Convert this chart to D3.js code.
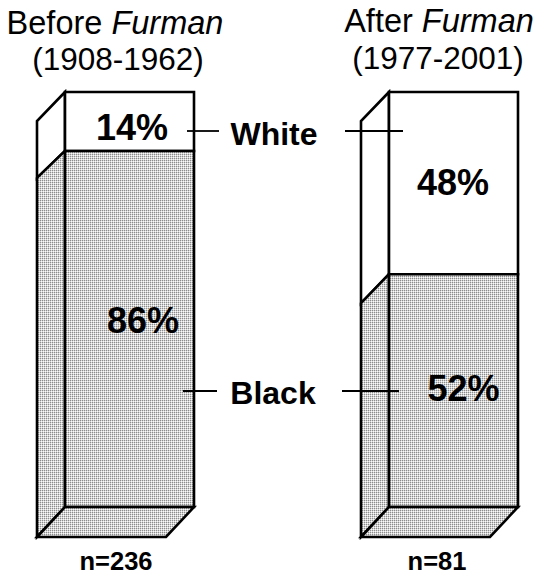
<!DOCTYPE html>
<html><head><meta charset="utf-8">
<script src="https://cdn.jsdelivr.net/npm/d3@7/dist/d3.min.js"></script>
<style>html,body{margin:0;padding:0;background:#fff}svg{display:block}text{font-family:"Liberation Sans",Arial,sans-serif;fill:#000}</style>
</head><body><div id="c"></div>
<script>
const periods = ["Before", "After"];
const titleEra = ["Furman", "Furman"];
const spans = ["(1908-1962)", "(1977-2001)"];
const whitePct = [14, 48];
const blackPct = [86, 52];
const drawnBlackHeight = [85.8, 56.1];
const counts = ["n=236", "n=81"];
const races = ["White", "Black"];

const W = 535, H = 575;
const svg = d3.select("#c").append("svg").attr("width", W).attr("height", H);
const defs = svg.append("defs");
const pat = defs.append("pattern").attr("id","dots").attr("width",2).attr("height",2).attr("patternUnits","userSpaceOnUse");
[[0,0,"#8c8c8c"],[1,0,"#d4d4d4"],[0,1,"#d4d4d4"],[1,1,"#fafafa"]].forEach(c=>{
  pat.append("rect").attr("x",c[0]).attr("y",c[1]).attr("width",1).attr("height",1).attr("fill",c[2]);
});

const y = d3.scaleLinear().domain([0,100]).range([507,92]);
const barW = 129, dx = -28;
const bx = p => p === "Before" ? 65 : 389;
const line = d3.line();
const STROKE = 2.6;
const topDrop = 29, floorDrop = 30;
const splitDrop = [27, 29];

periods.forEach((p,i)=>{
  const g = svg.append("g");
  const x0 = bx(p), x1 = x0+barW, xL = x0+dx;
  const yTop = y(100), ySplit = y(drawnBlackHeight[i]), yBot = y(0);
  const poly = (pts,fill)=>g.append("path").attr("d",line(pts)+"Z").attr("fill",fill)
    .attr("stroke","#000").attr("stroke-width",STROKE).attr("stroke-linejoin","miter");
  poly([[x0,yTop],[xL,yTop+topDrop],[xL,ySplit+splitDrop[i]],[x0,ySplit]],"#fff");
  poly([[x0,ySplit],[xL,ySplit+splitDrop[i]],[xL,yBot+floorDrop],[x0,yBot]],"url(#dots)");
  poly([[x0,yTop],[x1,yTop],[x1,ySplit],[x0,ySplit]],"#fff");
  poly([[x0,ySplit],[x1,ySplit],[x1,yBot],[x0,yBot]],"url(#dots)");
  poly([[x0,yBot],[x1,yBot],[x1+dx,yBot+floorDrop],[xL,yBot+floorDrop]],"url(#dots)");
});

const T = (s,xp,yp,size,weight,anchor="middle")=>svg.append("text").attr("x",xp).attr("y",yp)
  .attr("font-size",size).attr("font-weight",weight||"normal").attr("text-anchor",anchor).text(s);

const t0 = T(periods[0]+" ",115,34,32.5); t0.append("tspan").attr("font-style","italic").text(titleEra[0]);
const t1 = T(periods[1]+" ",439,32,32.5); t1.append("tspan").attr("font-style","italic").text(titleEra[1]);
T(spans[0],118,70,31.5);
T(spans[1],438,69,31.5);

T(whitePct[0]+"%",132,140,36,"bold");
T(blackPct[0]+"%",143,333,36,"bold");
T(whitePct[1]+"%",453,195,36,"bold");
T(blackPct[1]+"%",463.5,401,36,"bold");

T(races[0],274,145,32,"bold");
T(races[1],273,404,32,"bold");
[[187,219,131],[345,403,131],[183,217,391],[342,399,391]].forEach(d=>{
  svg.append("path").attr("d",line([[d[0],d[2]],[d[1],d[2]]])).attr("stroke","#000").attr("stroke-width",1.8).attr("fill","none");
});

T(counts[0],116,569.5,25.5,"bold");
T(counts[1],437,569.5,25.5,"bold");
</script></body></html>
